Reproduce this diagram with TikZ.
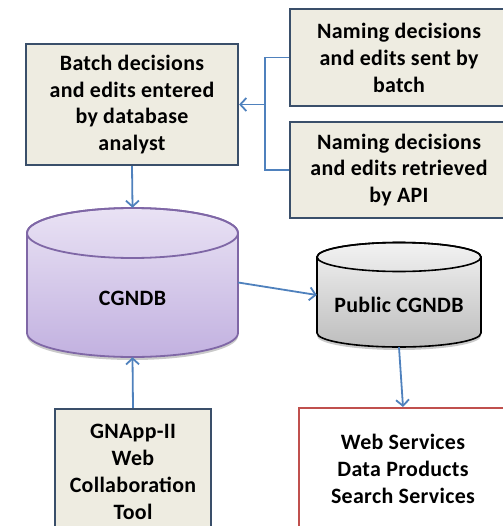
\documentclass[tikz,border=0pt]{standalone}
\usepackage{fontspec}
\setmainfont{Carlito}[LetterSpace=1.5]
\usetikzlibrary{arrows.meta,shadows}
\definecolor{boxfill}{HTML}{EEECE1}
\definecolor{boxline}{HTML}{3A4F6A}
\definecolor{flowblue}{HTML}{4F81BD}
\definecolor{dbline}{HTML}{7F67A6}
\definecolor{dbtop}{HTML}{E9E2F4}
\definecolor{dbbottom}{HTML}{C2B1E0}
\definecolor{pubtop}{HTML}{F2F2F2}
\definecolor{pubbottom}{HTML}{BDBDBD}
\definecolor{servline}{HTML}{C0504D}

\tikzset{
  box/.style={draw=boxline, fill=boxfill, line width=2.2bp, align=center, inner sep=0pt,
    font=\bfseries\fontsize{22}{27}\selectfont},
  dbtext/.style={font=\bfseries\fontsize{22}{27}\selectfont},
  link/.style={draw=flowblue, line width=1.8bp},
  flow/.style={link, -{Straight Barb[length=6bp,width=13bp]}},
  dbshadow/.style={drop shadow={opacity=.35, fill=black!60, shadow xshift=0bp, shadow yshift=-3bp}},
}

\begin{document}
\begin{tikzpicture}[x=1bp, y=-1bp]
  \useasboundingbox (0,0) rectangle (503,526);
  \clip (0,0) rectangle (503,526);

  \node[box, minimum width=212bp, minimum height=121bp](batch) at (132,104.5) {Batch decisions\\and edits entered\\by database\\analyst};
  \node[box, minimum width=218bp, minimum height=97bp](sent) at (399,57.5) {Naming decisions\\and edits sent by\\batch};
  \node[box, minimum width=218bp, minimum height=96bp](retrieved) at (399,170) {Naming decisions\\and edits retrieved\\by API};

  % databases
  \path[draw=dbline, line width=1.8bp, top color=dbtop, bottom color=dbbottom, dbshadow]
    (27,233) -- (27,333) arc[start angle=180, end angle=0, x radius=105.5, y radius=24]
    -- (238,233) arc[start angle=0, end angle=-180, x radius=105.5, y radius=25] -- cycle;
  \draw[dbline, line width=1.8bp] (132.5,233) ellipse[x radius=105.5, y radius=25];
  \node[minimum width=211bp, minimum height=149bp, label={[dbtext, yshift=-15.5bp]center:CGNDB}](cgndb) at (132.5,282.5) {};

  \path[draw=black, line width=1.6bp, top color=pubtop, bottom color=pubbottom, dbshadow]
    (317,257) -- (317,333) arc[start angle=180, end angle=0, x radius=82, y radius=14]
    -- (481,257) arc[start angle=0, end angle=-180, x radius=82, y radius=14.5] -- cycle;
  \draw[black, line width=1.6bp] (399,257) ellipse[x radius=82, y radius=14.5];
  \node[minimum width=164bp, minimum height=104bp, label={[dbtext, yshift=-10bp]center:Public CGNDB}](public) at (399,295) {};

  \node[box, minimum width=156bp, minimum height=126bp](gnapp) at (133,472) {GNApp-II\\Web\\Collaboration\\Tool};
  \node[box, draw=servline, fill=white, line width=2bp, minimum width=208bp, minimum height=122bp](services) at (403,469) {Web Services\\Data Products\\Search Services};

  \coordinate (fork) at (265,104.5);
  \draw[link] (sent.west) -| (fork) |- (retrieved.west);
  \draw[flow] (fork) -- (batch.east);
  \draw[flow] (batch.south) -- (cgndb.north);
  \draw[flow] (gnapp.north) -- (cgndb.south);
  \draw[flow] (cgndb.east) -- (public.west);
  \draw[flow] (public.south) -- (services.north);
\end{tikzpicture}
\end{document}
